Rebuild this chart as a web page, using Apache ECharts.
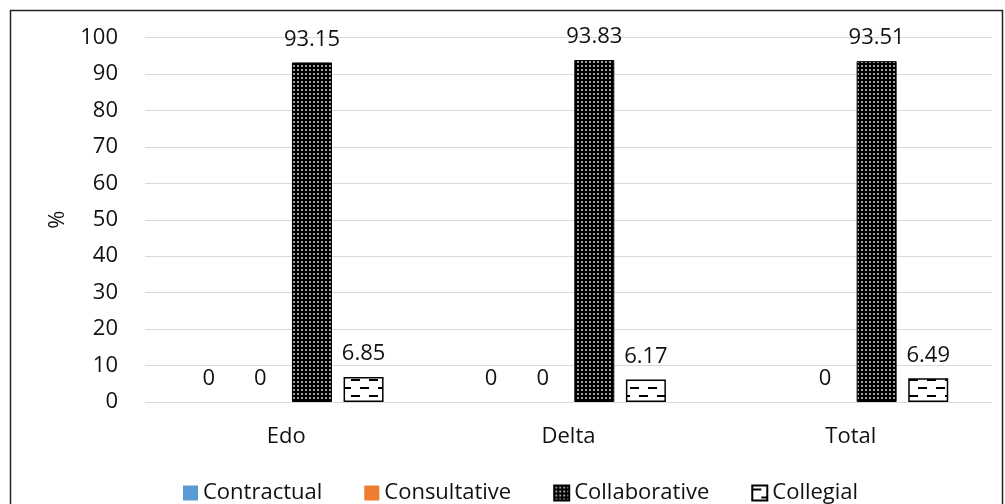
<!DOCTYPE html>
<html>
<head>
<meta charset="utf-8">
<script src="https://cdn.jsdelivr.net/npm/echarts@6/dist/echarts.min.js"></script>
<style>
  html, body { margin: 0; padding: 0; background: #fff; }
  #main { width: 1005px; height: 504px; }
</style>
</head>
<body>
<div id="main"></div>
<script>
var categories = ['Edo', 'Delta', 'Total'];
var contractual = [0, 0, 0];
var consultative = [0, 0, 0];
var collaborative = [93.15, 93.83, 93.51];
var collegial = [6.85, 6.17, 6.49];
var seriesNames = ['Contractual', 'Consultative', 'Collaborative', 'Collegial'];

// little canvases used as fill patterns
function dotPattern() {
  var c = document.createElement('canvas');
  c.width = 4; c.height = 4;
  var ctx = c.getContext('2d');
  ctx.fillStyle = '#000';
  ctx.fillRect(0, 0, 4, 4);
  ctx.fillStyle = '#a0a0a0';
  ctx.fillRect(1, 1, 2, 2);
  return c;
}
function dashPattern() {
  var c = document.createElement('canvas');
  c.width = 18; c.height = 16;
  var ctx = c.getContext('2d');
  ctx.fillStyle = '#fff';
  ctx.fillRect(0, 0, 18, 16);
  ctx.fillStyle = '#000';
  ctx.fillRect(0, 3, 9, 2);
  ctx.fillRect(9, 11, 9, 2);
  return c;
}

var font = "'Open Sans', sans-serif";
var labelStyle = {
  show: true,
  position: 'top',
  distance: 12,
  color: '#111',
  fontFamily: font,
  fontSize: 22
};

var myChart = echarts.init(document.getElementById('main'));

var option = {
  animation: false,
  graphic: [{
    type: 'rect',
    shape: { x: 10.5, y: 10.5, width: 992, height: 520 },
    style: { fill: 'none', stroke: '#222', lineWidth: 1.5 },
    silent: true
  }],
  legend: {
    data: seriesNames,
    left: 178,
    top: 477,
    icon: 'rect',
    itemWidth: 15,
    itemHeight: 15,
    itemGap: 42,
    textStyle: { fontFamily: font, fontSize: 22, color: '#111' }
  },
  grid: { left: 145, right: 13, top: 37.5, bottom: 102 },
  xAxis: {
    type: 'category',
    data: categories,
    axisLine: { show: false },
    axisTick: { show: false },
    axisLabel: { margin: 24, color: '#111', fontFamily: font, fontSize: 22 }
  },
  yAxis: {
    type: 'value',
    min: 0,
    max: 100,
    interval: 10,
    name: '%',
    nameLocation: 'middle',
    nameGap: 76,
    nameRotate: 90,
    nameTextStyle: { color: '#111', fontFamily: font, fontSize: 22 },
    axisLine: { show: false },
    axisTick: { show: false },
    axisLabel: { margin: 27, color: '#111', fontFamily: font, fontSize: 22 },
    splitLine: { lineStyle: { color: '#d9d9d9', width: 1 } }
  },
  series: [
    {
      name: 'Contractual',
      type: 'bar',
      barWidth: 40,
      barGap: '29%',
      data: contractual.map(function (v, i) {
        return i === 2 ? { value: v, label: { show: false } } : v;
      }),
      itemStyle: { color: '#5b9bd5' },
      label: labelStyle
    },
    {
      name: 'Consultative',
      type: 'bar',
      barWidth: 40,
      barGap: '29%',
      data: consultative,
      itemStyle: { color: '#ed7d31' },
      label: labelStyle
    },
    {
      name: 'Collaborative',
      type: 'bar',
      barWidth: 40,
      barGap: '29%',
      data: collaborative,
      itemStyle: {
        color: { image: dotPattern(), repeat: 'repeat' },
        borderColor: '#000',
        borderWidth: 1
      },
      label: labelStyle
    },
    {
      name: 'Collegial',
      type: 'bar',
      barWidth: 40,
      barGap: '29%',
      data: collegial,
      itemStyle: {
        color: { image: dashPattern(), repeat: 'repeat' },
        borderColor: '#000',
        borderWidth: 1.5
      },
      label: labelStyle
    }
  ]
};

myChart.setOption(option);
</script>
</body>
</html>
